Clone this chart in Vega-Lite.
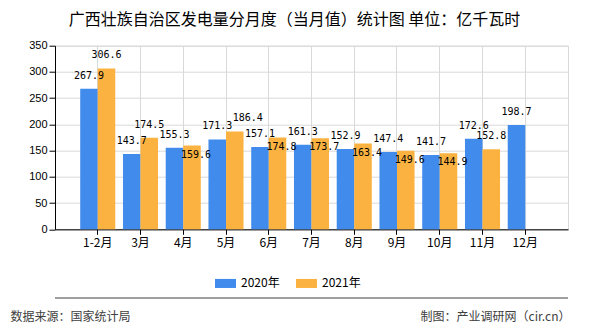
{
  "$schema": "https://vega.github.io/schema/vega-lite/v6.json",
  "autosize": "none",
  "width": 513,
  "height": 183.6,
  "padding": {"left": 55, "top": 45.7, "right": 22, "bottom": 100.7},
  "background": "white",
  "title": {
    "text": "广西壮族自治区发电量分月度（当月值）统计图 单位：亿千瓦时",
    "font": "Noto Sans CJK SC",
    "fontSize": 16,
    "fontWeight": "normal",
    "color": "#000000",
    "anchor": "middle",
    "frame": "group",
    "offset": 12,
    "dx": -17
  },
  "config": {
    "view": {"stroke": "#d9d9d9", "strokeWidth": 1},
    "axis": {"gridColor": "#d9d9d9", "gridWidth": 1}
  },
  "data": {
    "values": [
      {"month": "1-2月", "year": "2020年", "value": 267.9},
      {"month": "3月", "year": "2020年", "value": 143.7},
      {"month": "4月", "year": "2020年", "value": 155.3},
      {"month": "5月", "year": "2020年", "value": 171.3},
      {"month": "6月", "year": "2020年", "value": 157.1},
      {"month": "7月", "year": "2020年", "value": 161.3},
      {"month": "8月", "year": "2020年", "value": 152.9},
      {"month": "9月", "year": "2020年", "value": 147.4},
      {"month": "10月", "year": "2020年", "value": 141.7},
      {"month": "11月", "year": "2020年", "value": 172.6},
      {"month": "12月", "year": "2020年", "value": 198.7},
      {"month": "1-2月", "year": "2021年", "value": 306.6},
      {"month": "3月", "year": "2021年", "value": 174.5},
      {"month": "4月", "year": "2021年", "value": 159.6},
      {"month": "5月", "year": "2021年", "value": 186.4},
      {"month": "6月", "year": "2021年", "value": 174.8},
      {"month": "7月", "year": "2021年", "value": 173.7},
      {"month": "8月", "year": "2021年", "value": 163.4},
      {"month": "9月", "year": "2021年", "value": 149.6},
      {"month": "10月", "year": "2021年", "value": 144.9},
      {"month": "11月", "year": "2021年", "value": 152.8}
    ]
  },
  "encoding": {
    "x": {
      "field": "month",
      "type": "nominal",
      "sort": ["1-2月", "3月", "4月", "5月", "6月", "7月", "8月", "9月", "10月", "11月", "12月"],
      "scale": {"paddingInner": 0.18, "paddingOuter": 0.59},
      "axis": {
        "bandPosition": 0.5,
        "grid": true,
        "labelAngle": 0,
        "labelFont": "Noto Sans CJK SC",
        "labelFontSize": 12,
        "labelColor": "#000000",
        "labelPadding": 3,
        "tickSize": 5,
        "tickColor": "#000000",
        "domainColor": "#000000",
        "title": "数据来源：国家统计局",
        "titleFont": "Noto Sans CJK SC",
        "titleFontSize": 12,
        "titleFontWeight": "normal",
        "titleColor": "#404040",
        "titleAlign": "left",
        "titleBaseline": "middle",
        "titleX": -45,
        "titleY": 87.2
      }
    },
    "y": {
      "field": "value",
      "type": "quantitative",
      "scale": {"domain": [0, 350], "nice": false},
      "axis": {
        "values": [0, 50, 100, 150, 200, 250, 300, 350],
        "grid": true,
        "labelFont": "Liberation Sans",
        "labelFontSize": 11,
        "labelColor": "#000000",
        "labelPadding": 2,
        "tickSize": 6,
        "tickColor": "#000000",
        "domainColor": "#000000",
        "title": "制图：产业调研网（cir.cn）",
        "titleFont": "Noto Sans CJK SC",
        "titleFontSize": 12,
        "titleFontWeight": "normal",
        "titleColor": "#404040",
        "titleAngle": 0,
        "titleAlign": "right",
        "titleBaseline": "middle",
        "titleX": 515,
        "titleY": 270.8
      }
    },
    "xOffset": {"field": "year", "type": "nominal", "scale": {"domain": ["2020年", "2021年"]}}
  },
  "layer": [
    {
      "mark": {"type": "bar"},
      "encoding": {
        "color": {
          "field": "year",
          "type": "nominal",
          "scale": {"domain": ["2020年", "2021年"], "range": ["#418BED", "#FBB240"]},
          "legend": {
            "title": null,
            "orient": "none",
            "legendX": 160,
            "legendY": 227,
            "direction": "horizontal",
            "symbolType": "M-1,-0.43H1V0.43H-1Z",
            "symbolSize": 441,
            "symbolStrokeWidth": 0,
            "labelFont": "Noto Sans CJK SC",
            "labelFontSize": 12,
            "labelColor": "#000000",
            "labelOffset": 5,
            "columnPadding": 16
          }
        }
      }
    },
    {
      "transform": [{"filter": {"or": [{"field": "year", "equal": "2020年"}, {"field": "month", "oneOf": ["1-2月", "3月", "11月"]}]}}],
      "mark": {"type": "text", "baseline": "middle", "dy": -13, "font": "DejaVu Sans Mono", "fontSize": 10, "color": "#000000"},
      "encoding": {"text": {"field": "value", "type": "quantitative", "format": ".1f"}}
    },
    {
      "transform": [{"filter": {"and": [{"field": "year", "equal": "2021年"}, {"field": "month", "equal": "5月"}]}}],
      "mark": {"type": "text", "baseline": "middle", "dy": -14, "dx": 13, "font": "DejaVu Sans Mono", "fontSize": 10, "color": "#000000"},
      "encoding": {"text": {"field": "value", "type": "quantitative", "format": ".1f"}}
    },
    {
      "transform": [{"filter": {"and": [{"field": "year", "equal": "2021年"}, {"field": "month", "oneOf": ["4月", "6月", "7月", "8月", "9月", "10月"]}]}}],
      "mark": {"type": "text", "baseline": "middle", "dy": 9, "dx": 4, "font": "DejaVu Sans Mono", "fontSize": 10, "color": "#000000"},
      "encoding": {"text": {"field": "value", "type": "quantitative", "format": ".1f"}}
    },
    {
      "data": {"values": [{"sep": -131}]},
      "mark": {"type": "rule", "color": "#808080", "strokeWidth": 1.5},
      "encoding": {"y": {"field": "sep", "type": "quantitative"}, "x": null, "xOffset": null}
    }
  ]
}
